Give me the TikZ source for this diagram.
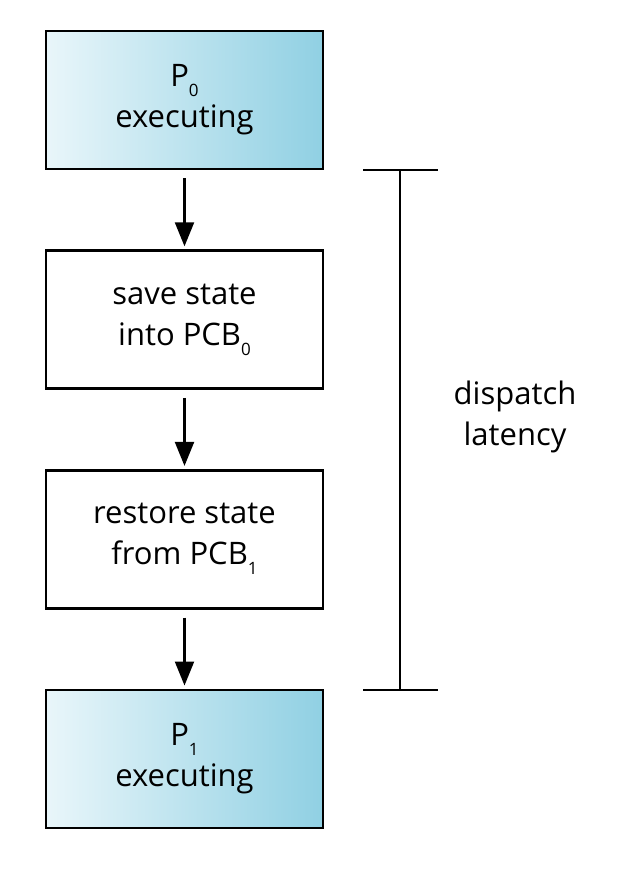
\documentclass[tikz,border=0pt]{standalone}
\usepackage{fontspec}
\setmainfont{Open Sans}
\usetikzlibrary{positioning,arrows.meta}
\tikzset {>={Triangle[width=19pt,length=24pt]}}
\tikzset{
  stepbox/.style={draw,line width=2.6pt,minimum width=277pt,minimum height=138pt,
    align=center,font=\fontsize{31}{41}\selectfont,inner sep=0pt},
  runbox/.style={stepbox,left color=runleft,right color=runright},
  flow/.style={->,line width=2.2pt}
}
\definecolor{runleft}{HTML}{E9F6FA}
\definecolor{runright}{HTML}{90D0E3}
\newcommand{\lowsub}[1]{\raisebox{-0.6ex}{\fontsize{17}{17}\selectfont #1}}

\begin{document}
\begin{tikzpicture}[x=1pt,y=-1pt]
\useasboundingbox (0,0) rectangle (632,876);

\node[runbox] (p0) at (184.5,100) {P\lowsub{0}\\executing};
\node[stepbox,below=79pt of p0] (save) {save state\\into PCB\lowsub{0}};
\node[stepbox,below=79pt of save] (restore) {restore state\\from PCB\lowsub{1}};
\node[runbox,below=79pt of restore] (p1) {P\lowsub{1}\\executing};

\draw[flow] ([yshift=-8pt]p0.south) -- ([yshift=3pt]save.north);
\draw[flow] ([yshift=-8pt]save.south) -- ([yshift=3pt]restore.north);
\draw[flow] ([yshift=-8pt]restore.south) -- ([yshift=3pt]p1.north);

% latency bracket
\coordinate (top) at (400,170);
\coordinate (bot) at (400,690);
\draw[line width=2.4pt] (top) -- (bot);
\draw[line width=2.4pt] ([xshift=-37pt]top) -- ([xshift=38pt]top);
\draw[line width=2.4pt] ([xshift=-37pt]bot) -- ([xshift=38pt]bot);
\node[align=center,font=\fontsize{31}{41}\selectfont] (lat) at (515,417) {dispatch\\latency};
\end{tikzpicture}
\end{document}
